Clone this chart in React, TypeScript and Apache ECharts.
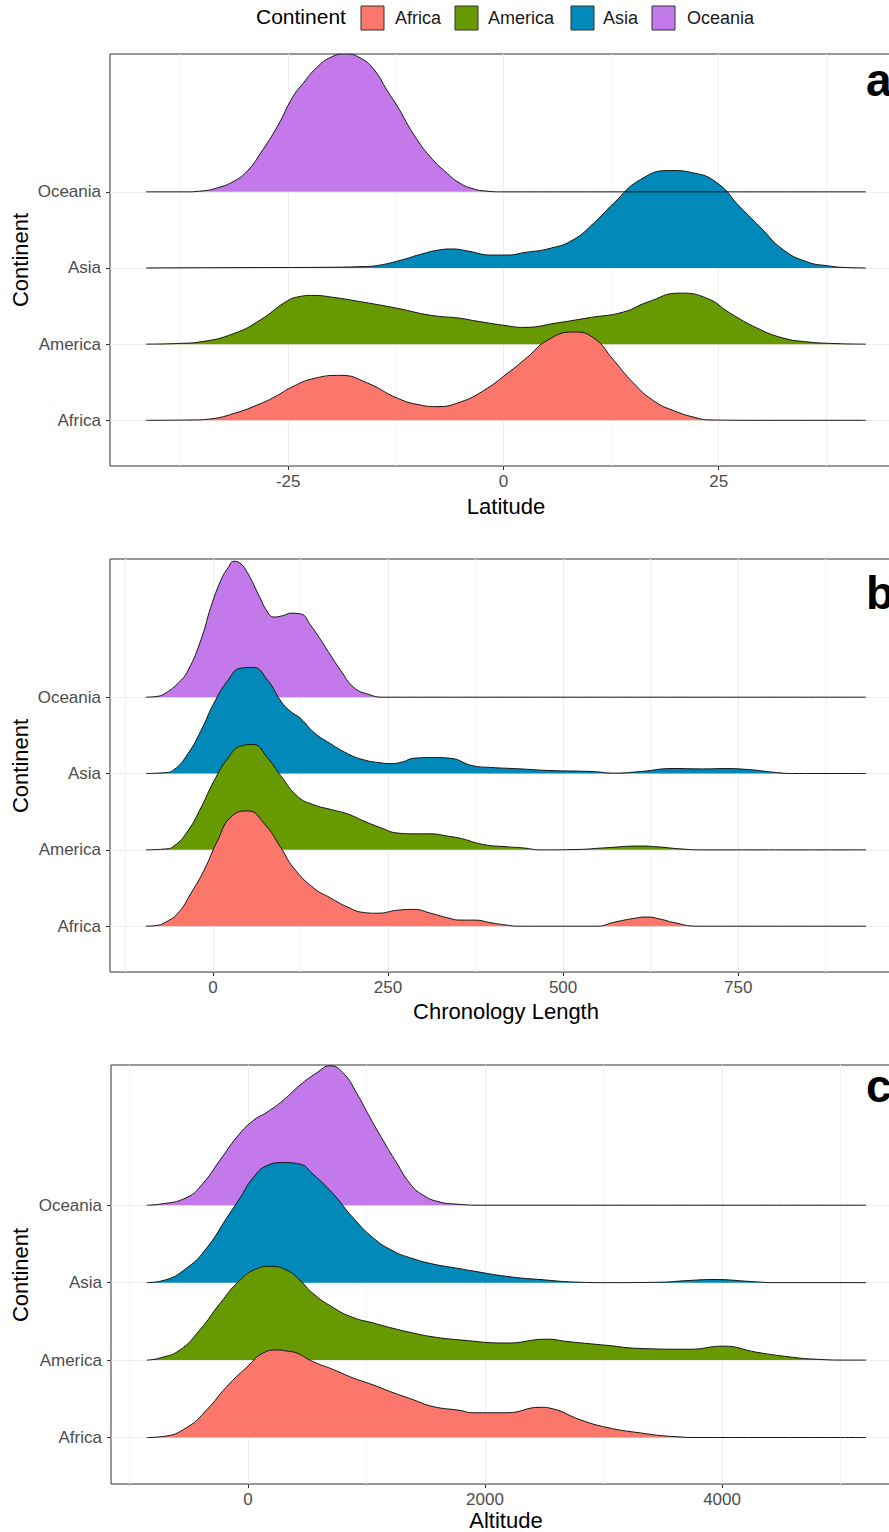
import React, { useEffect, useRef } from "react";
import * as echarts from "echarts";

const continents = ["Africa", "America", "Asia", "Oceania"];
const fills = ["#fb776b", "#679a00", "#0189b9", "#c479eb"];

// Panel a — Latitude: [value, ridge height in row units]
const latAfrica = [[-41.5,0],[-36,0.005],[-34.3,0.015],[-31.3,0.09],[-28.2,0.22],[-26.2,0.33],[-24.7,0.43],[-22,0.55],[-18.9,0.59],[-15.8,0.49],[-12.3,0.29],[-9.6,0.2],[-7.7,0.18],[-5,0.24],[-2.3,0.39],[0.5,0.62],[2.8,0.83],[5.1,1.05],[8.1,1.16],[10.5,1.08],[12.8,0.79],[15.1,0.49],[17.4,0.26],[19.7,0.13],[22.5,0.03],[24,0.005],[30,0],[42.1,0]];
const latAmerica = [[-41.5,0],[-37.5,0.01],[-35.2,0.03],[-31.3,0.14],[-28.2,0.32],[-25.5,0.54],[-23.9,0.62],[-22,0.64],[-20.1,0.62],[-16.2,0.55],[-12.3,0.47],[-8.5,0.38],[-5,0.34],[-3.5,0.31],[0.5,0.24],[2.3,0.22],[6.3,0.28],[10.1,0.35],[13.9,0.42],[16.7,0.55],[20.5,0.67],[23.7,0.6],[26.3,0.41],[29.5,0.21],[32.5,0.08],[35.3,0.03],[38,0.01],[42.1,0]];
const latAsia = [[-41.5,0],[-30,0.005],[-20,0.01],[-16,0.02],[-14.8,0.03],[-12,0.1],[-9.6,0.18],[-7.3,0.24],[-6,0.25],[-4,0.22],[-1.5,0.17],[0.5,0.17],[2.3,0.2],[5.5,0.26],[8.1,0.37],[10.5,0.59],[12.8,0.85],[15.9,1.16],[19.4,1.28],[22,1.25],[24.8,1.12],[27.5,0.8],[29.8,0.54],[32.5,0.24],[35.3,0.08],[37.6,0.03],[40,0.005],[42.1,0]];
const latOceania = [[-41.5,0],[-37,0],[-35,0.012],[-33.3,0.05],[-31.3,0.14],[-29.7,0.28],[-28.2,0.51],[-26.2,0.87],[-24.5,1.24],[-23.3,1.42],[-21.7,1.63],[-20,1.77],[-18.3,1.81],[-16.5,1.75],[-15,1.6],[-13.5,1.33],[-12.2,1.1],[-10.4,0.75],[-8.5,0.46],[-6.5,0.24],[-5,0.11],[-3.5,0.04],[-2,0.01],[0,0],[42.1,0]];

// Panel b — Chronology Length
const chronAfrica = [[-95.5,0],[-80,0.01],[-70,0.04],[-50,0.17],[-31.4,0.43],[-12.8,0.73],[7.1,1.13],[25.7,1.43],[49.9,1.51],[72.7,1.35],[97,1.03],[115.5,0.76],[144,0.5],[168,0.37],[192.5,0.25],[215,0.18],[235,0.17],[264,0.21],[287,0.22],[311,0.17],[335,0.11],[354,0.08],[372,0.08],[400,0.04],[420.6,0.013],[435,0],[549,0],[572,0.05],[600,0.1],[620,0.12],[640,0.09],[657,0.05],[691.6,0],[932.5,0]];
const chronAmerica = [[-95.5,0],[-70,0.01],[-55.6,0.05],[-35.6,0.25],[-17.1,0.55],[1.4,0.9],[21.4,1.2],[39.9,1.36],[57,1.38],[78.4,1.2],[97,0.97],[121,0.7],[144,0.59],[168,0.53],[192.5,0.47],[215,0.38],[239.6,0.29],[264,0.22],[287,0.21],[311,0.21],[335,0.18],[354,0.15],[386,0.07],[420,0.04],[443.5,0.025],[468,0],[520,0.005],[557.5,0.025],[610,0.05],[634.5,0.04],[667,0.013],[696,0],[932.5,0]];
const chronAsia = [[-95.5,0],[-70,0.01],[-55.6,0.05],[-35.6,0.26],[-17.1,0.56],[1.4,0.92],[21.4,1.22],[39.9,1.38],[57,1.39],[78.4,1.22],[97,0.95],[110,0.82],[125.5,0.72],[144,0.54],[168,0.39],[192.5,0.26],[215,0.18],[239.6,0.14],[254,0.13],[270,0.15],[287,0.2],[315,0.21],[339,0.2],[372,0.1],[396,0.08],[440,0.06],[478,0.04],[543,0.025],[572,0.005],[610,0.025],[657,0.065],[700,0.06],[729,0.065],[767,0.05],[800,0.017],[828,0],[932.5,0]];
const chronOceania = [[-95.5,0],[-80,0.01],[-70,0.04],[-50,0.18],[-35.6,0.35],[-17.1,0.75],[-2.9,1.18],[11.4,1.53],[22,1.7],[29.9,1.78],[38,1.76],[49.9,1.62],[64.2,1.36],[78.4,1.11],[87,1.05],[101,1.07],[111,1.1],[125.5,1.09],[139.7,0.94],[154,0.75],[168,0.55],[182.5,0.35],[201,0.13],[221,0.04],[244,0],[932.5,0]];

// Panel c — Altitude
const altAfrica = [[-852,0],[-717,0.013],[-515,0.13],[-346,0.36],[-177,0.66],[-8,0.91],[127,1.09],[245,1.13],[354,1.11],[414,1.09],[549,0.98],[717,0.88],[886,0.77],[1055,0.68],[1224,0.58],[1392,0.49],[1561,0.4],[1789,0.35],[1899,0.32],[2186,0.32],[2464,0.39],[2574,0.37],[2802,0.23],[3030,0.13],[3308,0.06],[3586,0.013],[3840,0],[5215,0]];
const altAmerica = [[-852,0],[-743,0.026],[-574,0.13],[-405,0.39],[-236,0.73],[-68,1.03],[76,1.18],[186,1.21],[329,1.16],[439,1.03],[549,0.86],[717,0.68],[886,0.55],[1055,0.48],[1224,0.41],[1392,0.35],[1561,0.3],[1789,0.26],[2186,0.22],[2523,0.27],[2692,0.24],[3030,0.19],[3308,0.15],[3730,0.14],[4008,0.18],[4295,0.1],[4574,0.04],[4768,0.013],[5055,0],[5215,0]];
const altAsia = [[-852,0],[-717,0.026],[-515,0.19],[-346,0.45],[-177,0.84],[-68,1.09],[42,1.35],[160,1.51],[295,1.55],[439,1.53],[549,1.4],[717,1.15],[886,0.84],[1055,0.58],[1224,0.41],[1392,0.31],[1561,0.24],[1789,0.18],[1899,0.15],[2186,0.08],[2464,0.04],[2802,0.005],[3030,0],[3477,0.005],[3705,0.026],[3924,0.04],[4262,0.013],[4430,0],[5215,0]];
const altOceania = [[-852,0],[-743,0.013],[-515,0.1],[-380,0.28],[-236,0.58],[-93,0.88],[42,1.09],[160,1.2],[295,1.35],[439,1.55],[582,1.71],[692,1.8],[802,1.71],[920,1.44],[1030,1.13],[1139,0.84],[1257,0.54],[1367,0.28],[1477,0.13],[1620,0.04],[1764,0.013],[1958,0],[5215,0]];

const latTicks = [-25, 0, 25];
const latMinor = [-37.5, -12.5, 12.5, 37.5];
const chronTicks = [0, 250, 500, 750];
const chronMinor = [-125, 125, 375, 625, 875];
const altTicks = [0, 2000, 4000];
const altMinor = [-1000, 1000, 3000, 5000];
const rowLevels = [1, 2, 3, 4];

const FONT = "'Liberation Sans', Arial, sans-serif";
const RIGHT = 902;

const panels = [
  { ridges: [latAfrica, latAmerica, latAsia, latOceania], min: -45.7, max: 46.3, ticks: latTicks, minor: latMinor, title: "Latitude", letter: "a", left: 110, top: 54, height: 412, titleY: 506, letterY: 80, contY: 260 },
  { ridges: [chronAfrica, chronAmerica, chronAsia, chronOceania], min: -146.9, max: 983.9, ticks: chronTicks, minor: chronMinor, title: "Chronology Length", letter: "b", left: 110, top: 559, height: 413, titleY: 1011, letterY: 593, contY: 766 },
  { ridges: [altAfrica, altAmerica, altAsia, altOceania], min: -1155, max: 5518, ticks: altTicks, minor: altMinor, title: "Altitude", letter: "c", left: 111, top: 1065, height: 419, titleY: 1520, letterY: 1086, contY: 1275 },
];

function buildOption() {
  const grid = panels.map((p) => ({
    left: p.left, top: p.top, width: RIGHT - p.left, height: p.height,
    show: true, borderColor: "#333333", borderWidth: 1, backgroundColor: "transparent",
  }));
  const xAxis = panels.map((p, i) => ({
    type: "value", gridIndex: i, min: p.min, max: p.max, position: "bottom",
    axisLine: { show: false, onZero: false }, splitLine: { show: false },
    axisTick: { show: true, customValues: p.ticks, length: 4, lineStyle: { color: "#333333", width: 1 } },
    axisLabel: { customValues: p.ticks, color: "#4d4d4d", fontSize: 17, margin: 7, fontFamily: FONT, formatter: (v: number) => String(v) },
  }));
  const yAxis = panels.map((p, i) => ({
    type: "value", gridIndex: i, min: 0.4, max: 5.81, position: "left",
    axisLine: { show: false, onZero: false }, splitLine: { show: false },
    axisTick: { show: true, customValues: rowLevels, length: 4, lineStyle: { color: "#333333", width: 1 } },
    axisLabel: {
      customValues: rowLevels, color: "#4d4d4d", fontSize: 17, margin: 9, fontFamily: FONT,
      formatter: (v: number) => continents[Math.round(v) - 1] ?? "",
    },
  }));
  const series: any[] = [];
  panels.forEach((p, i) => {
    series.push({
      type: "line", xAxisIndex: i, yAxisIndex: i, z: 0, silent: true,
      data: [[p.min, 1]], showSymbol: false, lineStyle: { opacity: 0 },
      markLine: {
        z: 0, silent: true, symbol: "none", animation: false, label: { show: false },
        lineStyle: { color: "#ededed", width: 1, type: "solid" },
        data: [
          ...p.ticks.map((v) => ({ xAxis: v })),
          ...p.minor.map((v) => ({ xAxis: v, lineStyle: { color: "#f4f4f4", width: 1, type: "solid" } })),
          ...rowLevels.map((v) => ({ yAxis: v })),
        ],
      },
    });
    for (let ci = 3; ci >= 0; ci--) {
      const level = ci + 1;
      series.push({
        name: continents[ci], type: "line", xAxisIndex: i, yAxisIndex: i, z: 2,
        data: p.ridges[ci].map(([x, h]) => [x, level + h]),
        showSymbol: false, smooth: 0.5,
        lineStyle: { color: "#141414", width: 1 },
        areaStyle: { color: fills[ci], opacity: 1, origin: level },
        silent: true,
      });
    }
  });

  const keyX = [361, 455, 571, 652];
  const labelX = [395, 488, 603, 687];
  const graphic: any[] = [
    { type: "text", left: 256, top: 6, style: { text: "Continent", x: 0, y: 0, fontSize: 21, fontFamily: FONT, fill: "#000" } },
  ];
  continents.forEach((c, k) => {
    graphic.push({ type: "rect", shape: { x: keyX[k], y: 6, width: 23, height: 24 }, style: { fill: fills[k], stroke: "#333333", lineWidth: 1 } });
    graphic.push({ type: "text", x: labelX[k], y: 18, style: { text: c, fontSize: 18, fontFamily: FONT, fill: "#1a1a1a", verticalAlign: "middle", align: "left" } });
  });
  panels.forEach((p) => {
    graphic.push({ type: "text", x: 506, y: p.titleY, style: { text: p.title, fontSize: 22, fontFamily: FONT, fill: "#000", align: "center", verticalAlign: "middle" } });
    graphic.push({ type: "text", x: 20, y: p.contY, rotation: Math.PI / 2, style: { text: "Continent", fontSize: 22, fontFamily: FONT, fill: "#000", align: "center", verticalAlign: "middle" } });
    graphic.push({ type: "text", x: 866, y: p.letterY, style: { text: p.letter, fontSize: 46, fontWeight: "bold", fontFamily: FONT, fill: "#000", align: "left", verticalAlign: "middle" } });
  });

  return { animation: false, backgroundColor: "#ffffff", grid, xAxis, yAxis, series, graphic };
}

export default function App() {
  const ref = useRef<HTMLDivElement>(null);
  useEffect(() => {
    if (!ref.current) return;
    const chart = echarts.init(ref.current, undefined, { renderer: "svg" });
    chart.setOption(buildOption() as any);
    return () => chart.dispose();
  }, []);
  return (
    <div style={{ position: "fixed", left: 0, top: 0, width: 889, height: 1532, overflow: "hidden", background: "#fff" }}>
      <div ref={ref} style={{ width: 910, height: 1532 }} />
    </div>
  );
}
